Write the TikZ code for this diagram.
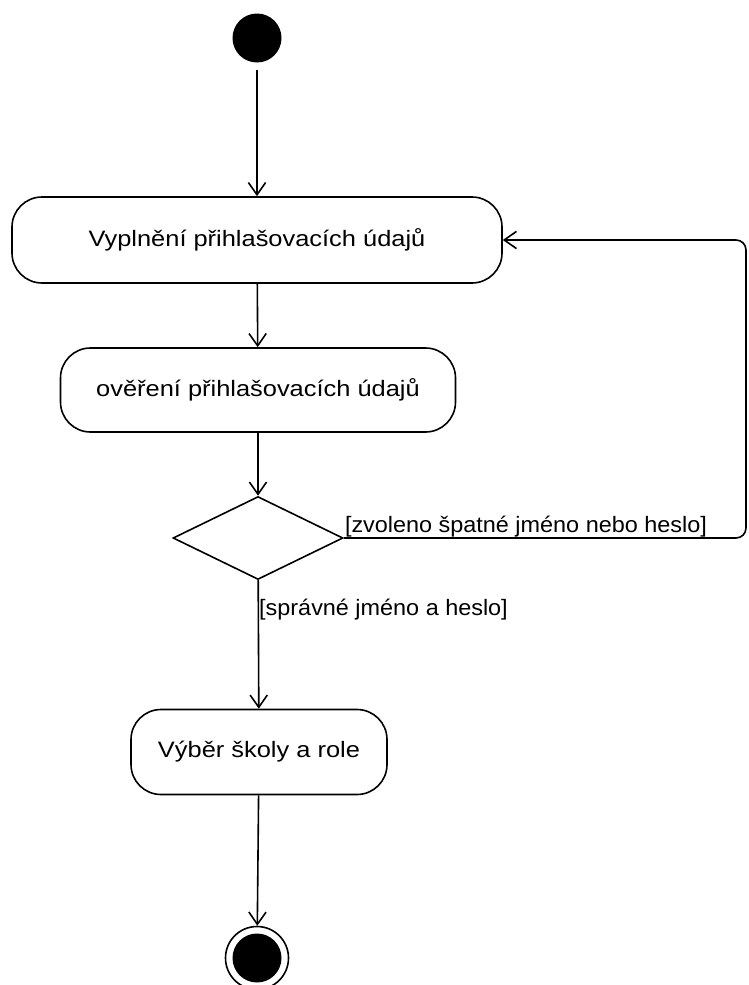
\documentclass[tikz,border=0pt]{standalone}
\usepackage{fontspec}
\setmainfont{Liberation Sans}
\newfontfamily\actfont[FakeStretch=1.14]{Liberation Sans}
\newfontfamily\guardfont[FakeStretch=1.05]{Liberation Sans}
\usetikzlibrary{arrows.meta,shapes.geometric}
\begin{document}
\begin{tikzpicture}[x=1pt,y=-1pt,
  line/.style={line width=1.6pt},
  activity/.style={line, draw, rectangle, rounded corners=30pt, inner sep=0pt,
    font=\actfont\fontsize{22.3}{26}\selectfont},
  arr/.style={line, -{Straight Barb[angle=70:15pt,line width=1.6pt]}},
  guard/.style={inner sep=1pt, font=\guardfont\fontsize{22.3}{26}\selectfont}]
  \useasboundingbox (0,0) rectangle (748,985);

  % initial and final states
  \node[circle, fill=black, minimum size=49pt, inner sep=0pt] (start) at (257,38) {};
  \node[circle, draw, line width=1.6pt, minimum size=63pt, inner sep=0pt] (end) at (257,958) {};
  \fill (end.center) circle (24.5pt);

  % activities
  \node[activity, minimum width=490pt, minimum height=86pt] (b1) at (257,240) {Vyplnění přihlašovacích údajů};
  \node[activity, minimum width=395pt, minimum height=84pt] (b2) at (258,390) {ověření přihlašovacích údajů};
  \node[activity, minimum width=256pt, minimum height=85pt] (b3) at (259,752) {Výběr školy a role};

  % decision
  \node[diamond, draw, line width=1.6pt, minimum width=170pt, minimum height=83pt, inner sep=0pt] (d) at (258,538) {};

  % right edge of the retry loop
  \coordinate (rt) at (746,0);

  % flows
  \draw[arr, shorten <=7pt] (start) -- (b1);
  \draw[arr] (b1) -- (b2);
  \draw[arr] (b2) -- (d);
  \draw[arr] (d) -- (b3);
  \draw[arr] (b3) -- (end);
  \draw[arr, rounded corners=10pt] (d.east) -- (d.east -| rt) -- (b1.east -| rt) -- (b1.east);

  % guards
  \node[guard, anchor=south west] (g1) at (d.east) {[zvoleno špatné jméno nebo heslo]};
  \node[guard, anchor=north west, yshift=-18pt] (g2) at (d.south) {[správné jméno a heslo]};
\end{tikzpicture}
\end{document}
